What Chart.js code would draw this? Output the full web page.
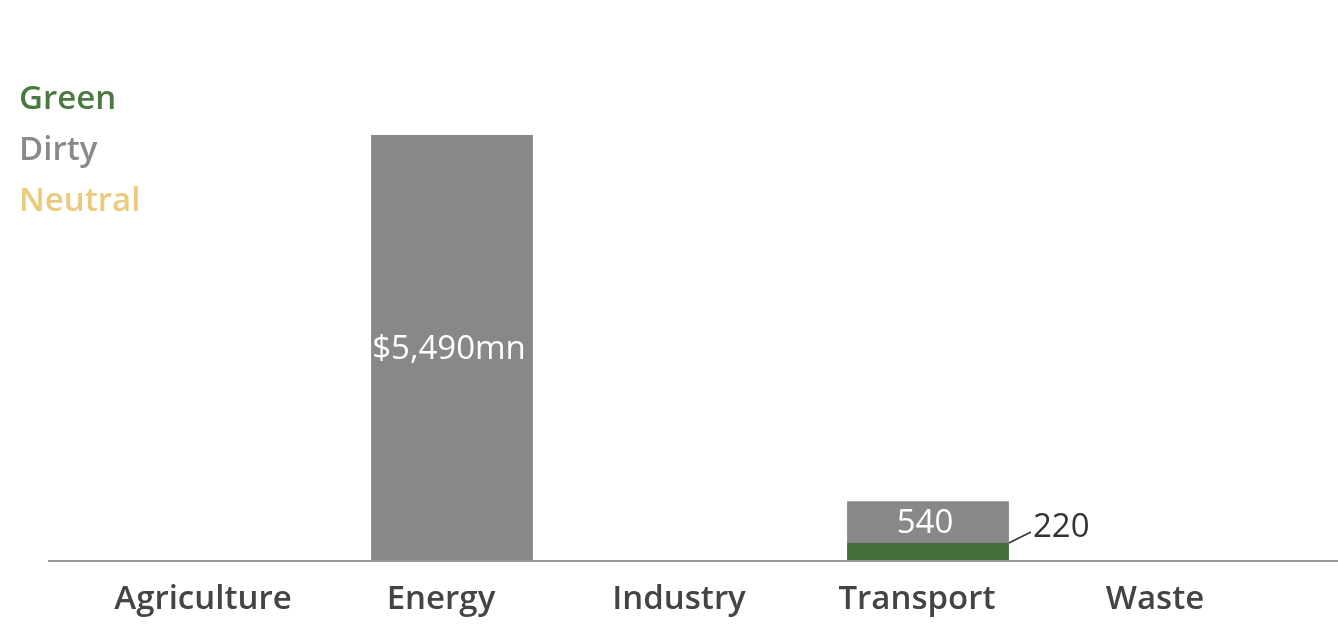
<!DOCTYPE html>
<html>
<head>
<meta charset="utf-8">
<script src="https://cdn.jsdelivr.net/npm/chart.js@4"></script>
<style>
  html, body { margin: 0; padding: 0; background: #fff; }
  #wrap { position: relative; width: 1338px; height: 634px; }
  #legend { position: absolute; left: 19px; top: 71px; font-family: "Open Sans", sans-serif; font-weight: 600; font-size: 33px; line-height: 51px; }
</style>
</head>
<body>
<div id="wrap">
  <canvas id="grafico" width="1338" height="634"></canvas>
  <div id="legend">
    <div style="color:#4b7a41">Green</div>
    <div style="color:#8a8a8a">Dirty</div>
    <div style="color:#ebca7c">Neutral</div>
  </div>
</div>
<script>
// Dados do gráfico
const categorias = ['Agriculture', 'Energy', 'Industry', 'Transport', 'Waste'];
const verde = [0, 0, 0, 220, 0];
const sujo = [0, 5490, 0, 540, 0];
const neutro = [0, 0, 0, 0, 0];

const corVerde = '#476f3c';
const corSujo = '#888888';
const corNeutro = '#ebca7c';

// Linha de base e rótulos dos valores
const rotulosPlugin = {
  id: 'rotulos',
  afterDatasetsDraw(chart) {
    const ctx = chart.ctx;
    const y0 = chart.scales.y.getPixelForValue(0);
    ctx.save();
    ctx.strokeStyle = '#9a9a9a';
    ctx.lineWidth = 2;
    ctx.beginPath();
    ctx.moveTo(48, y0 + 1);
    ctx.lineTo(chart.width, y0 + 1);
    ctx.stroke();

    ctx.font = '500 33px "Open Sans", sans-serif';
    ctx.textBaseline = 'middle';
    const metaSujo = chart.getDatasetMeta(1);
    const metaVerde = chart.getDatasetMeta(0);
    sujo.forEach((v, i) => {
      if (!v) return;
      const bar = metaSujo.data[i];
      const meio = (bar.y + bar.base) / 2;
      ctx.fillStyle = '#ffffff';
      ctx.textAlign = 'center';
      const texto = i === 1 ? '$' + v.toLocaleString('en-US') + 'mn' : String(v);
      ctx.fillText(texto, bar.x - 3, meio + 2);
    });
    verde.forEach((v, i) => {
      if (!v) return;
      const bar = metaVerde.data[i];
      const direita = bar.x + bar.width / 2;
      ctx.strokeStyle = '#333';
      ctx.lineWidth = 1.5;
      ctx.beginPath();
      ctx.moveTo(direita, bar.y);
      ctx.lineTo(direita + 22, bar.y - 11);
      ctx.stroke();
      ctx.fillStyle = '#333';
      ctx.textAlign = 'left';
      ctx.fillText(String(v), direita + 24, bar.y - 15);
    });
    ctx.restore();
  }
};

const chart = new Chart(document.getElementById('grafico').getContext('2d'), {
  type: 'bar',
  data: {
    labels: categorias,
    datasets: [
      { label: 'Green', data: verde, backgroundColor: corVerde },
      { label: 'Dirty', data: sujo, backgroundColor: corSujo },
      { label: 'Neutral', data: neutro, backgroundColor: corNeutro }
    ]
  },
  options: {
    responsive: false,
    animation: false,
    layout: { padding: { left: 95, right: 53, top: 135, bottom: 0 } },
    plugins: { legend: { display: false }, tooltip: { enabled: false } },
    datasets: { bar: { barPercentage: 0.68, categoryPercentage: 1 } },
    scales: {
      x: {
        stacked: true,
        grid: { display: false },
        border: { display: false },
        ticks: {
          color: '#444',
          font: { family: '"Open Sans", sans-serif', size: 33, weight: '600' },
          padding: 12,
          labelOffset: -11
        },
        afterFit(scale) { scale.height = 74; }
      },
      y: {
        stacked: true,
        display: false,
        min: 0,
        max: 5490
      }
    }
  },
  plugins: [rotulosPlugin]
});
</script>
</body>
</html>
